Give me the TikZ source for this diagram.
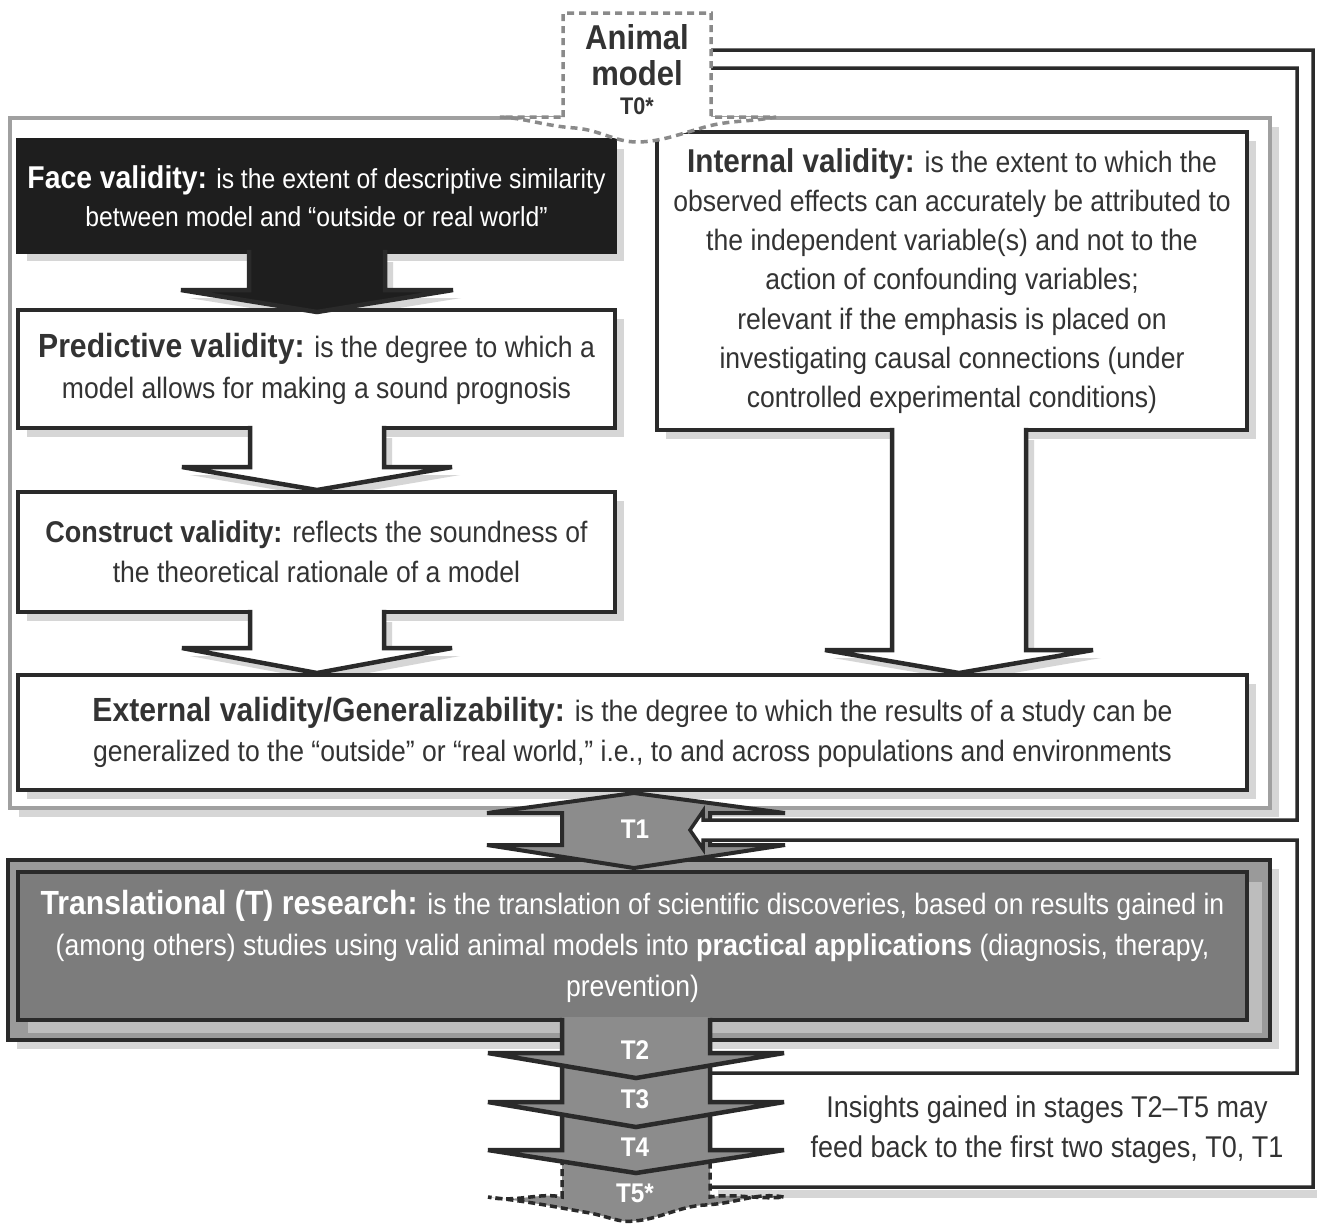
\documentclass[tikz,border=0pt]{standalone}
\usepackage{fontspec}
\setmainfont{Liberation Sans}[FakeStretch=0.9]
\usetikzlibrary{shadows}
\definecolor{ink}{HTML}{2A2A2A}
\definecolor{txt}{HTML}{333333}
\definecolor{faceblack}{HTML}{1E1E1E}
\definecolor{tgray}{HTML}{8C8C8C}
\definecolor{trin}{HTML}{7C7C7C}
\definecolor{trout}{HTML}{9A9A9A}
\definecolor{trsh}{HTML}{BDBDBD}
\definecolor{framegray}{HTML}{A0A0A0}
\definecolor{shad}{HTML}{D6D6D6}
\definecolor{dashgray}{HTML}{8A8A8A}
\newcommand{\hd}[1]{{\fontsize{33.5}{40}\selectfont\bfseries #1}}
\newcommand{\bdownsh}[6]{\fill[shad,xshift=8pt,yshift=-8pt] ({#1-#2},{#4+2}) -- ({#1-#2},#5) -- ({#1-#3},#5) -- (#1,#6) -- ({#1+#3},#5) -- ({#1+#2},#5) -- ({#1+#2},{#4+2}) -- cycle;}
\newcommand{\bdown}[7]{%
  \fill[#1] ({#2-#3},{#5-3}) -- ({#2-#3},#6) -- ({#2-#4},#6) -- (#2,#7) -- ({#2+#4},#6) -- ({#2+#3},#6) -- ({#2+#3},{#5-3}) -- cycle;
  \draw[ink,line width=4.5pt,line join=miter] ({#2-#3},{#5-2.2}) -- ({#2-#3},#6) -- ({#2-#4},#6) -- (#2,#7) -- ({#2+#4},#6) -- ({#2+#3},#6) -- ({#2+#3},{#5-2.2});}
\tikzset{
  sh/.style={drop shadow={shadow xshift=9pt,shadow yshift=-9pt,fill=shad,opacity=1}},
  vbox/.style={draw=ink,line width=4.5pt,fill=white,text=txt,align=center,inner sep=0pt,
    font=\fontsize{29.5}{40}\selectfont,sh},
  tlab/.style={text=white,font=\fontsize{27}{30}\selectfont\bfseries,inner sep=0pt},
  tarrow/.style={fill=tgray,draw=ink,line width=4pt,line join=miter}
}
\begin{document}
\begin{tikzpicture}[x=1pt,y=-1pt]
\useasboundingbox (0,0) rectangle (1317,1224);
\fill[white] (0,0) rectangle (1317,1224);

% validity frame
\node[draw=framegray,fill=white,line width=4pt,minimum width=1260pt,minimum height=690pt,inner sep=0pt,sh] (vframe) at (640,463) {};

% arrow shadows
\bdownsh{317}{68}{136}{252}{290}{312}
\bdownsh{317}{67}{135}{428}{467}{490}
\bdownsh{317}{67}{135}{612}{648}{673}
\bdownsh{959}{67}{134}{430}{650}{673}

% validity boxes
\node[vbox,fill=faceblack,draw=faceblack,text=white,minimum width=597pt,minimum height=112pt,
  font=\fontsize{27.5}{38}\selectfont] (face) at (316.5,196)
  {{\fontsize{31.5}{38}\selectfont\bfseries Face validity:} is the extent of descriptive similarity\\ between model and “outside or real world”};
\node[vbox,minimum width=597pt,minimum height=118pt,font=\fontsize{29.5}{41}\selectfont] (pred) at (316.5,369)
  {\hd{Predictive validity:} is the degree to which a\\ model allows for making a sound prognosis};
\node[vbox,minimum width=597pt,minimum height=120pt] (cons) at (316.5,552)
  {{\fontsize{30}{40}\selectfont\bfseries Construct validity:} reflects the soundness of\\ the theoretical rationale of a model};
\node[vbox,minimum width=590pt,minimum height=298pt,font=\fontsize{29.5}{39.3}\selectfont] (int) at (952,281)
  {{\fontsize{33}{39.3}\selectfont\bfseries Internal validity:} is the extent to which the\\ observed effects can accurately be attributed to\\ the independent variable(s) and not to the\\ action of confounding variables;\\ relevant if the emphasis is placed on\\ investigating causal connections (under\\ controlled experimental conditions)};
\node[vbox,minimum width=1229pt,minimum height=115pt] (ext) at (632.5,732.5)
  {\hd{External validity/Generalizability:} is the degree to which the results of a study can be\\ generalized to the “outside” or “real world,” i.e., to and across populations and environments};

% arrows between validity boxes
\bdown{faceblack}{317}{68}{136}{252}{290}{312}
\bdown{white}{317}{67}{135}{428}{467}{490}
\bdown{white}{317}{67}{135}{612}{648}{673}
\bdown{white}{959}{67}{134}{430}{650}{673}

% translational research box
\node[draw=ink,fill=trout,line width=4.5pt,minimum width=1262pt,minimum height=180pt,inner sep=0pt,sh] (trO) at (639,950) {};
\fill[trsh] (28,882) rectangle (1262,1033);
\node[draw=ink,fill=trin,line width=4.5pt,minimum width=1229pt,minimum height=148pt,inner sep=0pt,
  text=white,align=center,font=\fontsize{29.5}{41}\selectfont] (trI) at (632.5,946)
  {\hd{Translational (T) research:} is the translation of scientific discoveries, based on results gained in\\ (among others) studies using valid animal models into {\fontsize{30}{41}\selectfont\bfseries practical applications} (diagnosis, therapy,\\ prevention)};

% T1 double arrow
\draw[tarrow] (634,793) -- (785,813) -- (710,813) -- (710,845) -- (785,845) -- (634,868) -- (487,845) -- (562,845) -- (562,813) -- (487,813) -- cycle;
\node[tlab] (t1) at (635,829) {T1};

% feedback band
\fill[white] (710,1073) -- (1297,1073) -- (1297,840) -- (703,840) -- (703,849) -- (690,830) -- (703,811) -- (703,820) -- (1297,820) -- (1297,68) -- (703,68) -- (703,77) -- (692,59) -- (703,41) -- (703,50) -- (1313,50) -- (1313,1187) -- (710,1187) -- cycle;
\draw[ink,line width=3.5pt,line join=miter] (710,1073) -- (1297,1073) -- (1297,840) -- (703,840) -- (703,849) -- (690,830) -- (703,811) -- (703,820) -- (1297,820) -- (1297,68) -- (703,68) -- (703,77) -- (692,59) -- (703,41) -- (703,50) -- (1313,50) -- (1313,1187) -- (710,1187);
\fill[shad] (718,1190) rectangle (1317,1198);
\node[text=txt,align=center,font=\fontsize{30}{40}\selectfont,inner sep=0pt] (insight) at (1047,1130)
  {Insights gained in stages T2–T5 may\\ feed back to the first two stages, T0, T1};

% T5* dashed arrow
\fill[tgray] (562,1158) -- (562,1197) .. controls (540,1192) and (515,1203) .. (488,1197)
  .. controls (540,1203) and (560,1208) .. (590,1213) .. controls (610,1217) and (620,1223) .. (634,1221)
  .. controls (660,1219) and (680,1206) .. (705,1205) .. controls (740,1203) and (755,1192) .. (784,1197)
  .. controls (760,1200) and (735,1193) .. (710,1197) -- (710,1158) -- cycle;
\draw[ink,line width=3.5pt,dash pattern=on 7pt off 4pt] (562,1158) -- (562,1197) .. controls (540,1192) and (515,1203) .. (488,1197)
  .. controls (540,1203) and (560,1208) .. (590,1213) .. controls (610,1217) and (620,1223) .. (634,1221)
  .. controls (660,1219) and (680,1206) .. (705,1205) .. controls (740,1203) and (755,1192) .. (784,1197)
  .. controls (760,1200) and (735,1193) .. (710,1197) -- (710,1158);
\node[tlab] (t5) at (635,1193) {T5*};

% T4, T3, T2
\bdown{tgray}{636}{74}{148}{1112}{1150}{1173}
\node[tlab] (t4) at (635,1147) {T4};
\bdown{tgray}{636}{74}{148}{1064}{1102}{1127}
\node[tlab] (t3) at (635,1099) {T3};
\bdown{tgray}{636}{74}{148}{1020}{1053}{1078}
\node[tlab] (t2) at (635,1050) {T2};

% Animal model (dashed)
\filldraw[fill=white,draw=dashgray,line width=3.5pt,dash pattern=on 7pt off 5pt]
  (563,117) -- (563,13) -- (711,13) -- (711,117) -- (776,117)
  .. controls (750,122) and (730,120) .. (705,127) .. controls (680,134) and (660,142) .. (637,142)
  .. controls (615,142) and (600,130) .. (575,128) .. controls (545,126) and (525,118) .. (500,117) -- cycle;
\node[text=txt,align=center,font=\fontsize{34.5}{36}\selectfont\bfseries,inner sep=0pt] (animal) at (637,55) {Animal\\model};
\node[text=txt,font=\fontsize{24}{26}\selectfont\bfseries,inner sep=0pt] (t0) at (637,106) {T0*};
\end{tikzpicture}
\end{document}
